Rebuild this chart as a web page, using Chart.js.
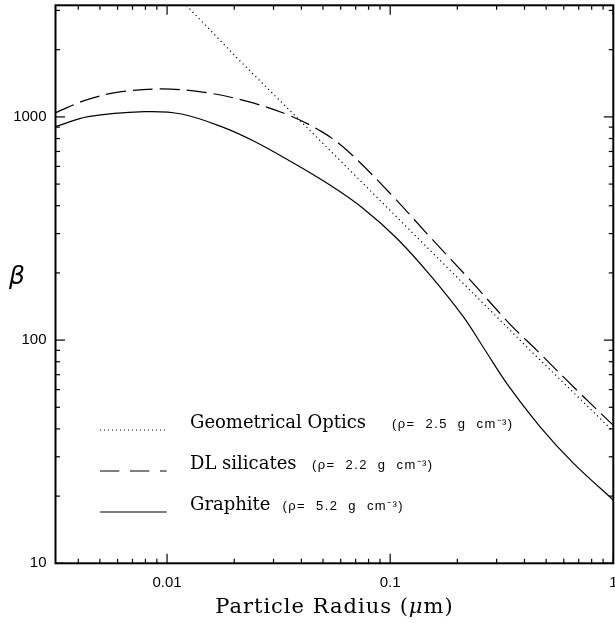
<!DOCTYPE html>
<html><head><meta charset="utf-8">
<script src="https://cdn.jsdelivr.net/npm/chart.js@4"></script>
<style>html,body{margin:0;padding:0;background:#fff;overflow:hidden}canvas{display:block}</style>
</head><body>
<canvas id="c" width="615" height="623"></canvas>
<script>
// ---- data (particle radius in micron, beta) ----
const radiusGeom = [0.0122, 0.021, 0.0705, 0.424, 1.0];
const betaGeom   = [3160, 1800, 540, 90, 39];

const radiusSilicate = [0.00316, 0.00443, 0.00625, 0.00944, 0.01477, 0.0231, 0.0349, 0.0493, 0.0638, 0.0998, 0.1507, 0.228, 0.344, 0.454, 0.662, 1.0];
const betaSilicate   = [1044, 1199, 1297, 1334, 1289, 1170, 1020, 859, 711, 455, 290, 186, 118, 90, 61.8, 41.5];

const radiusGraphite = [0.00316, 0.00443, 0.00794, 0.01161, 0.01753, 0.0248, 0.0349, 0.0537, 0.0757, 0.107, 0.1507, 0.213, 0.266, 0.333, 0.470, 0.662, 1.0];
const betaGraphite   = [904, 1002, 1055, 1030, 904, 774, 641, 495, 389, 286, 196, 127, 90.3, 64, 40.9, 28.1, 19.2];

const seriesNames   = ['Geometrical Optics', 'DL silicates', 'Graphite'];
const seriesDensity = ['(\u03c1=  2.5  g  cm\u207b\u00b3)', '(\u03c1=  2.2  g  cm\u207b\u00b3)', '(\u03c1=  5.2  g  cm\u207b\u00b3)'];

const xTickValues = [0.004,0.005,0.006,0.007,0.008,0.009,0.01,0.02,0.03,0.04,0.05,0.06,0.07,0.08,0.09,0.1,0.2,0.3,0.4,0.5,0.6,0.7,0.8,0.9,1];
const xMajorTicks = [0.01, 0.1, 1];
const xTickLabels = ['0.01', '0.1', '1'];
const yTickValues = [10,20,30,40,50,60,70,80,90,100,200,300,400,500,600,700,800,900,1000,2000,3000];
const yMajorTicks = [10, 100, 1000];
const yTickLabels = ['10', '100', '1000'];
const xTitleParts = ['Particle Radius (', '\u03bc', 'm)'];
const yTitle = '\u03b2';

const pts = (xs, ys) => xs.map((x, i) => ({x: x, y: ys[i]}));

const decor = {
  id: 'decor',
  afterDraw(chart) {
    const ctx = chart.ctx, a = chart.chartArea, xs = chart.scales.x, ys = chart.scales.y;
    ctx.save();
    ctx.strokeStyle = '#000'; ctx.fillStyle = '#000';
    ctx.setLineDash([]);
    ctx.lineWidth = 2;
    ctx.strokeRect(a.left, a.top, a.right - a.left, a.bottom - a.top);
    ctx.lineWidth = 1.2;
    const seg = (x1, y1, x2, y2) => { ctx.beginPath(); ctx.moveTo(x1, y1); ctx.lineTo(x2, y2); ctx.stroke(); };
    xs.ticks.forEach(t => {
      const p = xs.getPixelForValue(t.value);
      const L = xMajorTicks.includes(t.value) ? 9.5 : 4.5;
      seg(p, a.bottom, p, a.bottom - L);
      seg(p, a.top, p, a.top + L);
    });
    ys.ticks.forEach(t => {
      const p = ys.getPixelForValue(t.value);
      const L = yMajorTicks.includes(t.value) ? 9.5 : 4.5;
      seg(a.left, p, a.left + L, p);
      seg(a.right, p, a.right - L, p);
    });
    // legend
    const ds = chart.data.datasets;
    const legendDash = [[1, 3], [19.3, 10.7], []];
    const fixedSub = [392, 312, 277];
    for (let i = 0; i < 3; i++) {
      const ly = 430 + i * 41;
      ctx.lineWidth = ds[i].borderWidth;
      ctx.setLineDash(legendDash[i]);
      seg(100, ly, 166.7, ly);
      ctx.setLineDash([]);
      ctx.font = '18px "DejaVu Serif"';
      ctx.textAlign = 'left'; ctx.textBaseline = 'alphabetic';
      const bl = ly - 2;
      ctx.fillText(ds[i].label, 190, bl);
      const w = ctx.measureText(ds[i].label).width;
      ctx.font = '13px "Liberation Sans"';
      ctx.letterSpacing = '1.4px';
      ctx.fillText(seriesDensity[i], Math.max(fixedSub[i], 190 + w + 12), bl);
      ctx.letterSpacing = '0px';
    }
    // x title
    ctx.textBaseline = 'alphabetic';
    ctx.letterSpacing = '1px';
    const fN = '21px "DejaVu Serif"', fI = 'italic 21px "DejaVu Serif"';
    ctx.font = fN; const w0 = ctx.measureText(xTitleParts[0]).width, w2 = ctx.measureText(xTitleParts[2]).width;
    ctx.font = fI; const w1 = ctx.measureText(xTitleParts[1]).width;
    let tx = (a.left + a.right) / 2 - (w0 + w1 + w2) / 2;
    const tb = 612.7;
    ctx.textAlign = 'left';
    ctx.font = fN; ctx.fillText(xTitleParts[0], tx, tb); tx += w0;
    ctx.font = fI; ctx.fillText(xTitleParts[1], tx, tb); tx += w1;
    ctx.font = fN; ctx.fillText(xTitleParts[2], tx, tb);
    ctx.letterSpacing = '0px';
    // y title
    ctx.font = 'italic 25px "DejaVu Sans"';
    ctx.textAlign = 'center'; ctx.textBaseline = 'middle';
    ctx.fillText(yTitle, 17, 277);
    ctx.restore();
  }
};

new Chart(document.getElementById('c'), {
  type: 'line',
  data: {
    datasets: [
      {label: seriesNames[0], data: pts(radiusGeom, betaGeom), borderColor: '#000', borderWidth: 1.2, borderDash: [1.2, 3.3], pointRadius: 0, tension: 0, fill: false},
      {label: seriesNames[1], data: pts(radiusSilicate, betaSilicate), borderColor: '#000', borderWidth: 1.2, borderDash: [20, 7], pointRadius: 0, tension: 0.35, fill: false},
      {label: seriesNames[2], data: pts(radiusGraphite, betaGraphite), borderColor: '#000', borderWidth: 1.2, pointRadius: 0, tension: 0.35, fill: false}
    ]
  },
  options: {
    responsive: false, animation: false, devicePixelRatio: 1,
    layout: {autoPadding: false, padding: {left: 0, right: 1.7, top: 5.3, bottom: 0}},
    plugins: {legend: {display: false}, tooltip: {enabled: false}},
    scales: {
      x: {
        type: 'logarithmic', position: 'bottom', min: 0.0031623, max: 1,
        grid: {display: false, drawTicks: false}, border: {display: false},
        afterBuildTicks: s => { s.ticks = xTickValues.map(v => ({value: v})); },
        afterFit: s => { s.height = 59.7; s.paddingLeft = 0; s.paddingRight = 0; s.paddingTop = 0; s.paddingBottom = 0; },
        ticks: {autoSkip: false, maxRotation: 0, minRotation: 0, padding: 11, color: '#000',
          font: {family: 'Liberation Sans', size: 15},
          callback: v => { const k = xMajorTicks.indexOf(v); return k >= 0 ? xTickLabels[k] : ''; }}
      },
      y: {
        type: 'logarithmic', position: 'left', min: 10, max: 3162.3,
        grid: {display: false, drawTicks: false}, border: {display: false},
        afterBuildTicks: s => { s.ticks = yTickValues.map(v => ({value: v})); },
        afterFit: s => { s.width = 55.5; s.paddingLeft = 0; s.paddingRight = 0; s.paddingTop = 0; s.paddingBottom = 0; },
        ticks: {autoSkip: false, padding: 9, color: '#000',
          font: {family: 'Liberation Sans', size: 15},
          callback: v => { const k = yMajorTicks.indexOf(v); return k >= 0 ? yTickLabels[k] : ''; }}
      }
    }
  },
  plugins: [decor]
});
</script>
</body></html>
